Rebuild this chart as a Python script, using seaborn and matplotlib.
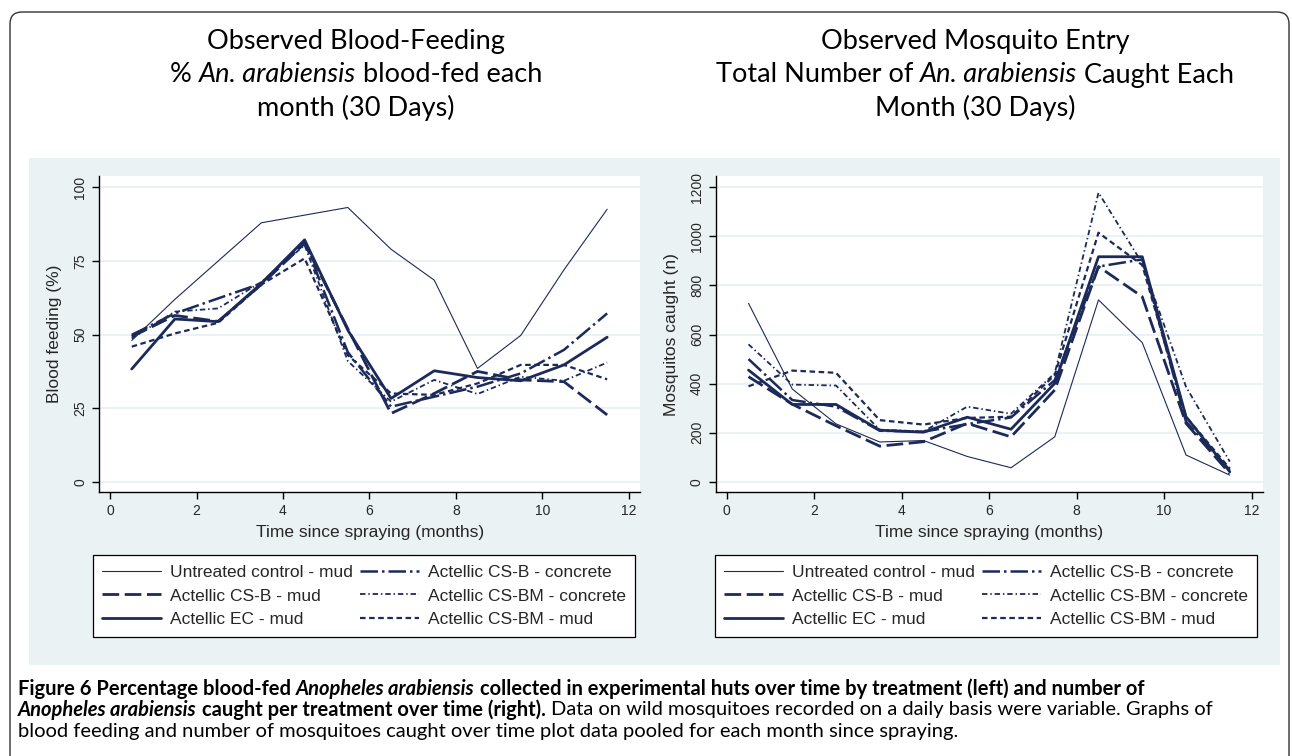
"""Figure 6 recreation: blood feeding and mosquito entry by treatment over time."""

import matplotlib

matplotlib.use("Agg")
import matplotlib.pyplot as plt
import seaborn as sns
from matplotlib.patches import FancyBboxPatch, Rectangle

# Month midpoints since spraying (pooled per 30 days)
MONTHS = [0.5, 1.5, 2.5, 3.5, 4.5, 5.5, 6.5, 7.5, 8.5, 9.5, 10.5, 11.5]

TREATMENTS = [
	"Untreated control - mud",
	"Actellic CS-B - mud",
	"Actellic EC - mud",
	"Actellic CS-B - concrete",
	"Actellic CS-BM - concrete",
	"Actellic CS-BM - mud",
]

# % blood-fed (left panel)
FED_CONTROL = [48, 62, 75, 88, 90.6, 93.2, 79, 68.5, 38.5, 49.7, 72, 92.6]
FED_CSB_MUD = [49.3, 56.5, 54.5, 67, 81, 52, 23.2, 30, 37.5, 34.6, 34, 22.7]
FED_EC_MUD = [38.3, 55.3, 54.4, 67.4, 82.2, 51.5, 28.3, 37.7, 35.4, 34.3, 39.7, 49.1]
FED_CSB_CONC = [49.9, 57.2, 62.3, 67.4, 81.6, 44, 25.5, 28.9, 32.3, 36.8, 44.8, 57.2]
FED_CSBM_CONC = [48.7, 57.8, 58.9, 67.9, 80.4, 41, 27.2, 34.6, 29.8, 35.7, 34.3, 40.5]
FED_CSBM_MUD = [45.9, 50.4, 54, 67, 75.9, 43, 30, 29.5, 33.4, 39.7, 39.7, 34.8]

# number caught (right panel)
N_CONTROL = [727, 378, 236, 162, 168, 103, 57, 183, 741, 567, 109, 27]
N_CSB_MUD = [428, 316, 228, 145, 163, 238, 183, 374, 877, 754, 238, 34]
N_EC_MUD = [455, 315, 315, 210, 202, 263, 214, 401, 917, 917, 265, 41]
N_CSB_CONC = [500, 333, 306, 208, 204, 235, 262, 414, 877, 906, 245, 48]
N_CSBM_CONC = [560, 396, 392, 212, 205, 306, 277, 442, 1178, 890, 387, 82]
N_CSBM_MUD = [389, 453, 444, 251, 233, 260, 265, 435, 1015, 883, 265, 54]

NAVY = "#1c2a5a"
PANEL_BG = "#eaf2f3"

# (linewidth, linestyle) per treatment, same order as TREATMENTS
STYLES = [
	(0.8, "-"),
	(2.0, (0, (6, 2))),
	(2.0, "-"),
	(1.8, (0, (7, 1.6, 1, 1.6))),
	(1.3, (0, (3, 1.6, 0.8, 1.6))),
	(1.6, (0, (2.5, 1.6))),
]

W, H = 1292, 756

sns.set_style("white")
AXIS_FONT = "Liberation Sans"
TITLE_FONT = "Lato"
CAPTION_FONT = "Lato"
plt.rcParams["font.family"] = [AXIS_FONT, "DejaVu Sans"]


def place_runs(ax, x, y, runs, size, family, ha="left"):
	"""Place a line of text made of runs of (text, weight, style), one space
	apart. Returns the texts and the total width in pixels."""
	renderer = ax.figure.canvas.get_renderer()

	def width(s):
		t = ax.text(0, 0, s, fontsize=size, family=family)
		w = t.get_window_extent(renderer).width
		t.remove()
		return w

	texts = []
	widths = []
	for s, weight, style in runs:
		t = ax.text(0, y, s, fontsize=size, family=family, fontweight=weight,
			fontstyle=style, va="center", ha="left", color="black")
		texts.append(t)
		widths.append(t.get_window_extent(renderer).width)
	gap = width("x x") - width("xx")
	total = sum(widths) + gap * (len(runs) - 1)
	x0 = x - total / 2 if ha == "center" else x
	for t, w in zip(texts, widths):
		t.set_x(x0)
		x0 += w + gap
	return texts, total


def draw_panel(ax, series, ylim, yticks, ylabel, legend_x):
	for name, vals, (lw, ls) in zip(TREATMENTS, series, STYLES):
		sns.lineplot(x=MONTHS, y=vals, ax=ax, color=NAVY, linewidth=lw,
			linestyle=ls, label=name)
	ax.set_xlim(-0.25, 12.26)
	ax.set_ylim(*ylim)
	ax.set_xticks(range(0, 13, 2))
	ax.set_yticks(yticks)
	ax.grid(axis="y", color=PANEL_BG, linewidth=1.4)
	ax.grid(axis="x", visible=False)
	ax.set_facecolor("white")
	for side in ("top", "right"):
		ax.spines[side].set_visible(False)
	for side in ("left", "bottom"):
		ax.spines[side].set_color("black")
		ax.spines[side].set_linewidth(1.0)
	ax.tick_params(axis="both", direction="out", length=5, width=1, color="black",
		labelsize=10, pad=3.5, bottom=True, left=True)
	ax.tick_params(axis="y", labelrotation=90)
	for lab in ax.get_yticklabels():
		lab.set_va("center")
	ax.set_xlabel("Time since spraying (months)", fontsize=12.5, labelpad=5)
	ax.set_ylabel(ylabel, fontsize=12.5, labelpad=8)
	handles, labels = ax.get_legend_handles_labels()
	leg = ax.legend(handles, labels, ncol=2, loc="upper center",
		bbox_to_anchor=(legend_x / W, 1 - 555 / H), bbox_transform=fig.transFigure,
		borderaxespad=0, fontsize=12.5, handlelength=3.4, handletextpad=0.5,
		columnspacing=0.4, labelspacing=0.5, borderpad=0.55, fancybox=False,
		frameon=True, framealpha=1)
	leg.get_frame().set_facecolor("white")
	leg.get_frame().set_edgecolor("black")
	leg.get_frame().set_linewidth(0.9)


fig = plt.figure(figsize=(W / 100, H / 100), dpi=100)
fig.patch.set_facecolor("white")

bg = fig.add_axes([0, 0, 1, 1], zorder=-5)
bg.set_xlim(0, W)
bg.set_ylim(H, 0)
bg.axis("off")
bg.add_patch(FancyBboxPatch((10, 12), 1279, 800, boxstyle="round,pad=0,rounding_size=12",
	facecolor="white", edgecolor="#333333", linewidth=1.0))
bg.add_patch(Rectangle((29, 158), 1251, 507, facecolor=PANEL_BG, edgecolor="none"))

ax_l = fig.add_axes([99.3 / W, 1 - 492.3 / H, 540.7 / W, 316.3 / H])
ax_r = fig.add_axes([715.7 / W, 1 - 492.3 / H, 547.3 / W, 316.3 / H])

draw_panel(ax_l, [FED_CONTROL, FED_CSB_MUD, FED_EC_MUD, FED_CSB_CONC, FED_CSBM_CONC, FED_CSBM_MUD],
	(-3.6, 103.9), [0, 25, 50, 75, 100], "Blood feeding (%)", 364)
draw_panel(ax_r, [N_CONTROL, N_CSB_MUD, N_EC_MUD, N_CSB_CONC, N_CSBM_CONC, N_CSBM_MUD],
	(-43, 1246), [0, 200, 400, 600, 800, 1000, 1200], "Mosquitos caught (n)", 986)

# panel titles
tsize = 19.5
place_runs(bg, 356, 41, [("Observed Blood-Feeding", "normal", "normal")], tsize, TITLE_FONT, "center")
place_runs(bg, 356, 75, [("%", "normal", "normal"), ("An. arabiensis", "normal", "italic"),
	("blood-fed each", "normal", "normal")], tsize, TITLE_FONT, "center")
place_runs(bg, 356, 108, [("month (30 Days)", "normal", "normal")], tsize, TITLE_FONT, "center")
place_runs(bg, 975, 41, [("Observed Mosquito Entry", "normal", "normal")], tsize, TITLE_FONT, "center")
place_runs(bg, 975, 75, [("Total Number of", "normal", "normal"), ("An. arabiensis", "normal", "italic"),
	("Caught Each", "normal", "normal")], tsize, TITLE_FONT, "center")
place_runs(bg, 975, 108, [("Month (30 Days)", "normal", "normal")], tsize, TITLE_FONT, "center")

# caption: size the font so the first line runs the same width as the original
caption = [
	(689, [
		("Figure 6 Percentage blood-fed", "bold", "normal"),
		("Anopheles arabiensis", "bold", "italic"),
		("collected in experimental huts over time by treatment (left) and number of", "bold", "normal"),
	]),
	(710, [
		("Anopheles arabiensis", "bold", "italic"),
		("caught per treatment over time (right).", "bold", "normal"),
		("Data on wild mosquitoes recorded on a daily basis were variable. Graphs of", "normal", "normal"),
	]),
	(731, [
		("blood feeding and number of mosquitoes caught over time plot data pooled for each month since spraying.", "normal", "normal"),
	]),
]
probe, probe_w = place_runs(bg, 0, 0, caption[0][1], 10, CAPTION_FONT)
for t in probe:
	t.remove()
csize = min(14.5, 10 * 1165 / probe_w)
for y, runs in caption:
	place_runs(bg, 18, y, runs, csize, CAPTION_FONT)

fig.savefig("out.png", dpi=100)
